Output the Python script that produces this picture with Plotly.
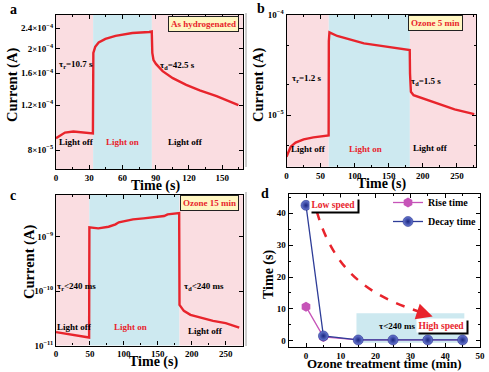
import plotly.graph_objects as go

W, H = 489, 372
FONT = "Liberation Serif"
RED = "#e8242c"
PINK = "#fadde1"
CYAN = "#cde9f0"

# ---------------- data ----------------
# (a) As hydrogenated
a_time = [0, 8.1, 15.7, 23.3, 31.8, 33.3, 33.7, 35.4, 38.5, 44.6, 53.7, 68.9, 84.1, 86.4,
          86.9, 88.0, 90.2, 96.2, 105.4, 117.5, 129.7, 144.9, 164.6]
a_current = [8.9e-5, 9.37e-5, 9.46e-5, 9.4e-5, 9.29e-5, 9.3e-5, 1.92e-4, 2.03e-4, 2.11e-4, 2.18e-4,
             2.24e-4, 2.30e-4, 2.32e-4, 2.33e-4, 1.92e-4, 1.8e-4, 1.74e-4, 1.63e-4, 1.53e-4,
             1.44e-4, 1.37e-4, 1.30e-4, 1.20e-4]
a_light_on = [33.5, 86.5]
a_yticks = [8e-5, 1.2e-4, 1.6e-4, 2e-4, 2.4e-4]
a_yticktext = ["8×10<sup>−5</sup>", "1.2×10<sup>−4</sup>", "1.6×10<sup>−4</sup>",
               "2×10<sup>−4</sup>", "2.4×10<sup>−4</sup>"]

# (b) Ozone 5 min
b_time = [0, 6.2, 13.3, 25.2, 39.5, 52, 61.8, 62.1, 63, 74.4, 100, 113.6, 136.4, 154.5,
          172.7, 180.8, 181.2, 182.5, 186.4, 204.2, 225.4, 246.6, 275.4]
b_current = [3.83e-6, 4.82e-6, 5.29e-6, 5.71e-6, 5.98e-6, 6.15e-6, 6.25e-6, 5.5e-5, 6.71e-5,
             6.17e-5, 5.54e-5, 5.21e-5, 4.94e-5, 4.75e-5, 4.57e-5, 4.47e-5, 2.6e-5, 1.71e-5,
             1.58e-5, 1.43e-5, 1.28e-5, 1.14e-5, 1.02e-5]
b_light_on = [62, 181]
b_yticks = [1e-5, 1e-4]
b_yticktext = ["10<sup>−5</sup>", "10<sup>−4</sup>"]

# (c) Ozone 15 min
c_time = [0, 48.8, 49.2, 62.3, 77.5, 87.7, 92.6, 102.9, 113.5, 129, 144.5, 159.3, 164.4,
          181.5, 182.0, 188.4, 198.1, 212.3, 231.4, 250, 270]
c_current = [1.76e-11, 1.40e-11, 1.48e-9, 1.42e-9, 1.52e-9, 1.68e-9, 1.83e-9, 1.94e-9, 2.08e-9,
             2.17e-9, 2.26e-9, 2.39e-9, 2.57e-9, 2.72e-9, 5.57e-11, 4.33e-11, 3.66e-11,
             3.27e-11, 2.84e-11, 2.57e-11, 2.14e-11]
c_light_on = [49, 182]
c_yticks = [1e-11, 1e-10, 1e-9]
c_yticktext = ["10<sup>−11</sup>", "10<sup>−10</sup>", "10<sup>−9</sup>"]

# (d) response times
ozone_time = [0, 5, 15, 25, 35, 45]
rise_time = [10.7, 1.2, 0.24, 0.24, 0.24, 0.24]
decay_time = [42.5, 1.5, 0.24, 0.24, 0.24, 0.24]


def px(x):
    return x / W


def py(y):
    return 1 - y / H


fig = go.Figure()

# curves
fig.add_trace(go.Scatter(x=a_time, y=a_current, mode="lines", line=dict(color=RED, width=2.4),
                         xaxis="x", yaxis="y", showlegend=False))
fig.add_trace(go.Scatter(x=b_time, y=b_current, mode="lines", line=dict(color=RED, width=2.4),
                         xaxis="x2", yaxis="y2", showlegend=False))
fig.add_trace(go.Scatter(x=c_time, y=c_current, mode="lines", line=dict(color=RED, width=2.4),
                         xaxis="x3", yaxis="y3", showlegend=False))
fig.add_trace(go.Scatter(x=ozone_time, y=rise_time, mode="lines+markers", name="Rise time",
                         line=dict(color="#c654b8", width=1.3),
                         marker=dict(symbol="hexagon", size=10, color="#c654b8"),
                         xaxis="x4", yaxis="y4"))
fig.add_trace(go.Scatter(x=ozone_time, y=decay_time, mode="lines+markers", name="Decay time",
                         line=dict(color="#2e3d98", width=1.3),
                         marker=dict(symbol="circle", size=10, color="#6a7cd4",
                                     gradient=dict(type="radial", color="#1a2580"),
                                     line=dict(width=0.5, color="#1a2580")),
                         xaxis="x4", yaxis="y4"))

tickfont = dict(family=FONT, size=9, color="black", weight="bold")
common = dict(showline=True, linecolor="black", linewidth=1.3, mirror="ticks", ticks="inside",
              ticklen=4, tickwidth=1, tickcolor="black", showgrid=False, zeroline=False,
              tickfont=tickfont, automargin=False)

dom = {
    "a": ([56, 243.3], [15, 169]),
    "b": ([286.5, 476], [15, 166.7]),
    "c": ([56, 243.3], [195, 345.5]),
    "d": ([288.6, 480], [194.2, 347.1]),
}


def xd(k):
    return [px(dom[k][0][0]), px(dom[k][0][1])]


def yd(k):
    return [py(dom[k][1][1]), py(dom[k][1][0])]


def minor_x(dt):
    return dict(ticks="inside", ticklen=2, tickcolor="black", dtick=dt, showgrid=False)


fig.update_layout(
    xaxis=dict(domain=xd("a"), anchor="y", range=[0, 169], tickvals=[0, 30, 60, 90, 120, 150],
               minor=minor_x(15), **common),
    yaxis=dict(domain=yd("a"), anchor="x", type="log", range=[-4.171, -3.568],
               tickmode="array", tickvals=a_yticks, ticktext=a_yticktext, **common),
    xaxis2=dict(domain=xd("b"), anchor="y2", range=[0, 278], tickvals=[0, 50, 100, 150, 200, 250],
                minor=minor_x(25), **common),
    yaxis2=dict(domain=yd("b"), anchor="x2", type="log", range=[-5.517, -4],
                tickmode="array", tickvals=b_yticks, ticktext=b_yticktext,
                minor=dict(ticks="inside", ticklen=2, tickcolor="black", tickmode="array",
                           tickvals=[5e-6, 2e-5, 5e-5], showgrid=False), **common),
    xaxis3=dict(domain=xd("c"), anchor="y3", range=[0, 276], tickvals=[0, 50, 100, 150, 200, 250],
                minor=minor_x(25), **common),
    yaxis3=dict(domain=yd("c"), anchor="x3", type="log", range=[-11, -8.235],
                tickmode="array", tickvals=c_yticks, ticktext=c_yticktext, **common),
    xaxis4=dict(domain=xd("d"), anchor="y4", range=[-5, 50], dtick=10, minor=minor_x(5), **common),
    yaxis4=dict(domain=yd("d"), anchor="x4", range=[-2, 46], dtick=10, minor=minor_x(5), **common),
    width=W, height=H,
    margin=dict(l=0, r=0, t=0, b=0, pad=0),
    paper_bgcolor="white", plot_bgcolor="white",
    font=dict(family=FONT, color="black"),
    legend=dict(x=px(388), y=py(188), xanchor="left", yanchor="top", bgcolor="rgba(0,0,0,0)",
                font=dict(family=FONT, size=10, color="black", weight="bold"),
                itemwidth=30, tracegroupgap=0),
)

# background shading
shapes = []


def bands(xref, yref, light_on, xmax):
    segs = [(0, light_on[0], PINK), (light_on[0], light_on[1], CYAN), (light_on[1], xmax, PINK)]
    for x0, x1, col in segs:
        shapes.append(dict(type="rect", xref=xref, yref=yref, x0=x0, x1=x1,
                           y0=0, y1=1, fillcolor=col, line=dict(width=0), layer="below"))


bands("x", "y domain", a_light_on, 169)
bands("x2", "y2 domain", b_light_on, 278)
bands("x3", "y3 domain", c_light_on, 276)

shapes.append(dict(type="rect", xref="x4", yref="y4", x0=14.5, x1=45.5, y0=-0.6, y1=8.6,
                   fillcolor=CYAN, line=dict(width=0), layer="below"))
shapes.append(dict(type="path", xref="x4", yref="y4",
                   path="M 3.1,40.6 C 8,22 18,14 33.5,8.8",
                   line=dict(color=RED, width=2.5, dash="dash")))
# gray separator strips
shapes.append(dict(type="line", xref="paper", yref="paper", x0=px(246), x1=px(246),
                   y0=py(13), y1=py(167), line=dict(color="#bdbdbd", width=1.5)))
shapes.append(dict(type="line", xref="paper", yref="paper", x0=px(246), x1=px(246),
                   y0=py(192), y1=py(346), line=dict(color="#bdbdbd", width=1.5)))
fig.update_layout(shapes=shapes)

ann = []


def txt(x, y, s, size=9, color="black", angle=0, **kw):
    d = dict(x=px(x), y=py(y), xref="paper", yref="paper", text=s, showarrow=False,
             xanchor="center", yanchor="middle", textangle=angle,
             font=dict(family=FONT, size=size, color=color, weight="bold"))
    d.update(kw)
    ann.append(d)


# panel letters
for lab, (x, y) in {"a": (13.3, 10), "b": (260.6, 9), "c": (12.7, 195), "d": (265, 193.3)}.items():
    txt(x, y, lab, size=14)

# axis titles
txt(155, 185.5, "Time (s)", size=14)
txt(12, 85, "Current (A)", size=14.5, angle=-90)
txt(381, 183.5, "Time (s)", size=14)
txt(258, 85, "Current (A)", size=14.5, angle=-90)
txt(153.3, 362, "Time (s)", size=14)
txt(29, 262, "Current (A)", size=14.5, angle=-90)
txt(384.2, 363.5, "Ozone treatment time (min)", size=13)
txt(269, 275, "Time (s)", size=14, angle=-90)

# panel a texts
txt(75.5, 64.3, "τ<sub>r</sub>=10.7 s")
txt(177, 65.7, "τ<sub>d</sub>=42.5 s")
txt(76.3, 141.7, "Light off")
txt(122.7, 141.7, "Light on", color=RED)
txt(185.8, 141.7, "Light off")
# panel b texts
txt(307.1, 78, "τ<sub>r</sub>=1.2 s")
txt(426, 81.7, "τ<sub>d</sub>=1.5 s")
txt(308.9, 149.3, "Light off")
txt(365.1, 149.3, "Light on", color=RED)
txt(430, 147.7, "Light off")
# panel c texts
txt(76.3, 286.7, "τ<sub>r</sub><240 ms")
txt(204, 286, "τ<sub>d</sub><240 ms")
txt(74.2, 326.7, "Light off")
txt(130, 326.7, "Light on", color=RED)
txt(205.5, 330.7, "Light off")

# title boxes
box = dict(bgcolor="#fff6c2", bordercolor="#222", borderwidth=1, borderpad=2)
txt(203, 24.3, "As hydrogenated", color=RED, **box)
txt(435, 23.3, "Ozone 5 min", color=RED, **box)
txt(209.7, 203, "Ozone 15 min", color=RED, **box)

# panel d texts
bold = lambda sz, c: dict(family=FONT, size=sz, color=c, weight="bold")
for (xx, yy, s) in [(7.9, 42.8, "Low speed"), (38.9, 4.7, "High speed")]:
    ann.append(dict(x=xx, y=yy, xref="x4", yref="y4", text=s, showarrow=False,
                    font=bold(9.5, "black"), bgcolor="black", borderpad=1.5, xshift=2, yshift=-2))
    ann.append(dict(x=xx, y=yy, xref="x4", yref="y4", text=s, showarrow=False,
                    font=bold(9.5, RED), bgcolor="white", borderpad=1.5))
ann.append(dict(x=26.3, y=4.7, xref="x4", yref="y4", text="τ<240 ms", showarrow=False,
                font=bold(9, "black")))
ann.append(dict(x=36.4, y=7.6, xref="x4", yref="y4", ax=33.3, ay=8.7, axref="x4", ayref="y4",
                text="", showarrow=True, arrowhead=2, arrowsize=1.3, arrowwidth=2.5,
                arrowcolor=RED))

fig.update_layout(annotations=ann)

fig.write_html("out.html", config={"displayModeBar": False},
               post_script="document.body.style.margin='0';document.body.style.padding='0';")
